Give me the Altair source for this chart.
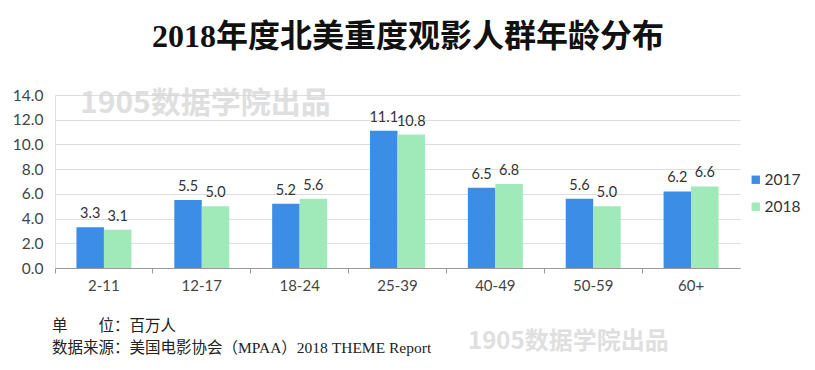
import altair as alt
import pandas as pd

categories = ["2-11", "12-17", "18-24", "25-39", "40-49", "50-59", "60+"]
values_2017 = [3.3, 5.5, 5.2, 11.1, 6.5, 5.6, 6.2]
values_2018 = [3.1, 5.0, 5.6, 10.8, 6.8, 5.0, 6.6]
series = ["2017", "2018"]
colors = ["#3b8de6", "#9feab8"]
y_ticks = [0, 2, 4, 6, 8, 10, 12, 14]

title_text = "2018年度北美重度观影人群年龄分布"
unit_text = "单　　位：百万人"
source_text = "数据来源：美国电影协会（MPAA）2018 THEME Report"
watermark = "1905数据学院出品"

rows = []
for c, a, b in zip(categories, values_2017, values_2018):
    rows.append({"age": c, "year": "2017", "v": a})
    rows.append({"age": c, "year": "2018", "v": b})
df = pd.DataFrame(rows)

W, H = 685, 173
FONT = "Lato"

x_scale = alt.Scale(domain=categories, paddingInner=0, paddingOuter=0)
xo_scale = alt.Scale(domain=series, paddingOuter=0.78, paddingInner=0)
y_scale = alt.Scale(domain=[0, 14], nice=False)

x = alt.X("age:N", sort=categories, scale=x_scale,
          axis=alt.Axis(title=None, labelAngle=0, bandPosition=0, tickSize=5,
                        tickColor="#999999", domainColor="#999999", labelPadding=5,
                        labelFontSize=15, labelColor="#444444", labelFont=FONT,
                        grid=False))
xo = alt.XOffset("year:N", scale=xo_scale)
y = alt.Y("v:Q", scale=y_scale,
          axis=alt.Axis(title=None, values=y_ticks, format=".1f", labelOverlap=False,
                        tickSize=0, labelPadding=12, labelFontSize=15.5,
                        labelColor="#444444", labelFont=FONT, domain=True,
                        domainColor="#e0e0e0", gridColor="#dddddd"))

bars = alt.Chart(df).mark_bar().encode(
    x=x, xOffset=xo, y=y,
    color=alt.Color("year:N", scale=alt.Scale(domain=series, range=colors),
                    legend=alt.Legend(title=None, orient="none", legendX=693, legendY=77,
                                      symbolType="square", symbolSize=70,
                                      symbolStrokeWidth=0, labelFontSize=15.5,
                                      labelColor="#333333", labelFont=FONT,
                                      rowPadding=10, labelOffset=1)),
)

labels = alt.Chart(df).mark_text(dy=-13, fontSize=14.5, color="#333333", font=FONT).encode(
    x=x, xOffset=xo, y=y,
    text=alt.Text("v:Q", format=".1f"),
)

title_df = pd.DataFrame({"t": [title_text]})
title = alt.Chart(title_df).mark_text(
    fontSize=32, fontWeight="bold", font="Liberation Serif, Noto Sans CJK SC",
    color="#111111", align="center", baseline="middle"
).encode(x=alt.value(353), y=alt.value(-58), text="t:N")

foot_df = pd.DataFrame({"t": [unit_text, source_text], "yy": [231, 253]})
foot = alt.Chart(foot_df).mark_text(
    fontSize=15.5, font="Liberation Serif, Noto Sans CJK SC", color="#222222",
    align="left", baseline="middle"
).encode(x=alt.value(-3), y=alt.Y("yy:Q", scale=None), text="t:N")

wm_df = pd.DataFrame({"t": [watermark, watermark], "xx": [25, 413], "yy": [9, 247],
                      "fs": [30, 24]})
wm = alt.Chart(wm_df).mark_text(
    font="Noto Sans CJK SC", fontWeight="bold", color="#d8d8d8",
    align="left", baseline="middle", opacity=0.8
).encode(x=alt.X("xx:Q", scale=None), y=alt.Y("yy:Q", scale=None), text="t:N",
         size=alt.Size("fs:Q", scale=None, legend=None))

chart = alt.layer(wm, bars, labels, title, foot).properties(
    width=W, height=H,
    autosize=alt.AutoSizeParams(type="none"),
    padding={"left": 47, "top": 87, "right": 67, "bottom": 94},
    background="white",
).configure_view(stroke=None)

chart.save("out.html", embed_options={"renderer": "svg", "actions": False})
